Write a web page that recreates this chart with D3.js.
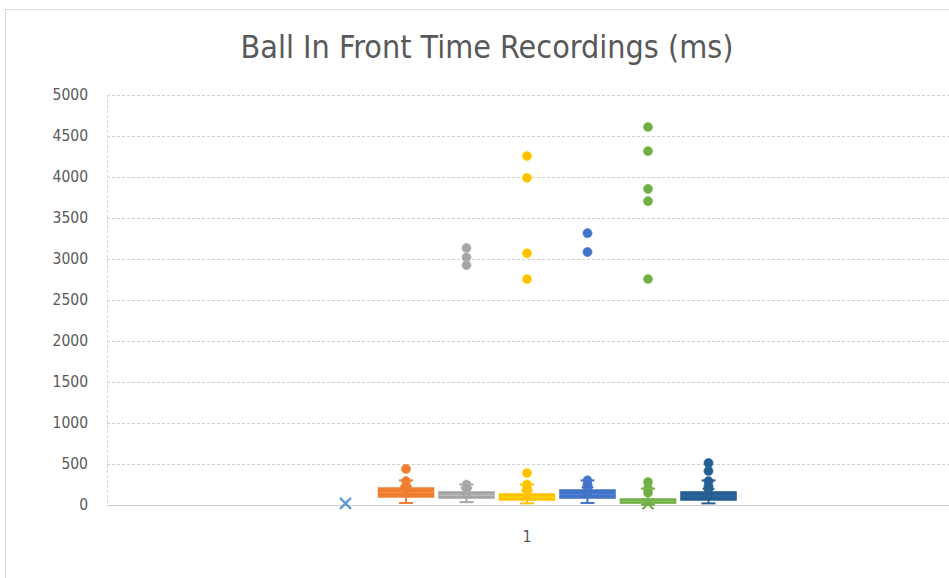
<!DOCTYPE html>
<html>
<head>
<meta charset="utf-8">
<script src="https://cdn.jsdelivr.net/npm/d3@7"></script>
<style>
  html, body { margin: 0; padding: 0; background: #ffffff; }
  svg { display: block; }
  text { font-family: "Liberation Sans Narrow", "DejaVu Sans Condensed", "Arial Narrow", sans-serif; fill: #595959; }
</style>
</head>
<body>
<svg id="chart" width="949" height="578"></svg>
<script>
// Category on the x axis
const categories = ["1"];

// One box per recording set
const seriesNames = ["Set 1", "Set 2", "Set 3", "Set 4", "Set 5", "Set 6", "Set 7"];
const seriesColors = ["#5B9BD5", "#ED7D31", "#A5A5A5", "#FFC000", "#4472C4", "#70AD47", "#255E91"];

// Box statistics (ms); the first set is flat at zero, so only its mean is shown
const whiskerLow  = [null, 25,  35,  20,  25,  5,   20];
const quartile1   = [null, 98,  85,  61,  85,  24,  61];
const medians     = [null, 150, 120, 95,  130, 45,  110];
const quartile3   = [null, 207, 159, 134, 183, 73,  159];
const whiskerHigh = [null, 300, 250, 250, 300, 200, 300];
const means       = [20,   170, 150, 120, 160, 15,  140];

// Individual points beyond / around the boxes (ms)
const points = [
  [],
  [440, 290, 230],
  [3135, 3020, 2925, 250, 205],
  [4255, 3990, 3070, 2755, 390, 250, 200],
  [3315, 3085, 300, 250],
  [4610, 4315, 3855, 3705, 2755, 280, 200, 150],
  [512, 415, 290, 230]
];

// Y axis ticks
const yTicks = [0, 500, 1000, 1500, 2000, 2500, 3000, 3500, 4000, 4500, 5000];

const title = "Ball In Front Time Recordings (ms)";

const svg = d3.select("#chart");
const W = 949, H = 578;
const plot = { left: 107, right: 947, top: 95, bottom: 505 };

// Outer chart border
svg.append("rect")
  .attr("x", 5.5).attr("y", 9.5)
  .attr("width", 1000).attr("height", 1000)
  .attr("fill", "#ffffff").attr("stroke", "#d9d9d9").attr("stroke-width", 1);

const y = d3.scaleLinear().domain([0, 5000]).range([plot.bottom, plot.top]);
const x = d3.scaleBand().domain(categories).range([plot.left, plot.right]);
const cx = x("1") + x.bandwidth() / 2;
const slot = 60.5;
const xs = d3.scaleBand()
  .domain(seriesNames)
  .range([cx - 3.5 * slot, cx + 3.5 * slot])
  .paddingInner(0.09).paddingOuter(0.045);

// Gridlines and y labels
const yAxis = d3.axisLeft(y).tickValues(yTicks).tickFormat(d3.format("d"))
  .tickSize(-(W - plot.left)).tickPadding(19);
const gy = svg.append("g").attr("transform", `translate(${plot.left},0)`).call(yAxis);
gy.select(".domain").remove();
gy.selectAll(".tick line")
  .attr("stroke", "#cfcfcf")
  .attr("stroke-dasharray", d => d === 0 ? null : "3,2")
  .attr("stroke-width", 1)
  .attr("shape-rendering", "crispEdges");
gy.selectAll(".tick text")
  .style("font-size", "15.5px")
  .attr("fill", "#595959");

// Dashed vertical axis line
svg.append("line")
  .attr("x1", plot.left + 0.5).attr("x2", plot.left + 0.5)
  .attr("y1", y(5000)).attr("y2", y(0))
  .attr("stroke", "#d9d9d9").attr("stroke-dasharray", "3,2");

// Solid baseline
svg.append("line")
  .attr("x1", plot.left).attr("x2", W)
  .attr("y1", y(0) + 0.5).attr("y2", y(0) + 0.5)
  .attr("stroke", "#c9c9c9");

// Category label
const xAxis = d3.axisBottom(x).tickSize(0).tickPadding(26);
const gx = svg.append("g").attr("transform", `translate(0,${plot.bottom})`).call(xAxis);
gx.select(".domain").remove();
gx.selectAll(".tick text").style("font-size", "16px").attr("fill", "#595959");

// Boxes
const capW = 14;
seriesNames.forEach((name, i) => {
  const col = seriesColors[i];
  const bx = xs(name), bw = xs.bandwidth(), mx = bx + bw / 2;
  const g = svg.append("g");

  if (quartile1[i] !== null) {
    // Whiskers
    [[quartile3[i], whiskerHigh[i]], [quartile1[i], whiskerLow[i]]].forEach(([a, b]) => {
      g.append("line").attr("x1", mx).attr("x2", mx).attr("y1", y(a)).attr("y2", y(b))
        .attr("stroke", col).attr("stroke-width", 2);
      g.append("line").attr("x1", mx - capW / 2).attr("x2", mx + capW / 2).attr("y1", y(b)).attr("y2", y(b))
        .attr("stroke", col).attr("stroke-width", 2);
    });

    // Box
    g.append("rect")
      .attr("x", bx).attr("width", bw)
      .attr("y", y(quartile3[i])).attr("height", Math.max(1, y(quartile1[i]) - y(quartile3[i])))
      .attr("fill", col).attr("stroke", col).attr("stroke-width", 1.5);

    // Median
    g.append("line").attr("x1", bx).attr("x2", bx + bw)
      .attr("y1", y(medians[i])).attr("y2", y(medians[i]))
      .attr("stroke", d3.color(col).brighter(0.5)).attr("stroke-width", 1);
  }

  // Points
  g.selectAll("circle").data(points[i]).join("circle")
    .attr("cx", mx).attr("cy", d => y(d)).attr("r", 4.6)
    .attr("fill", col).attr("stroke", d3.color(col).brighter(0.4)).attr("stroke-width", 0.6);

  // Mean marker (x)
  const my = y(means[i]), s = 5.5;
  g.append("path")
    .attr("d", `M${mx - s},${my - s}L${mx + s},${my + s}M${mx - s},${my + s}L${mx + s},${my - s}`)
    .attr("stroke", col).attr("stroke-width", 2.2).attr("fill", "none");
});

// Title
svg.append("text")
  .attr("x", 487).attr("y", 58)
  .attr("text-anchor", "middle")
  .style("font-size", "32px")
  .attr("fill", "#595959")
  .text(title);
</script>
</body>
</html>
